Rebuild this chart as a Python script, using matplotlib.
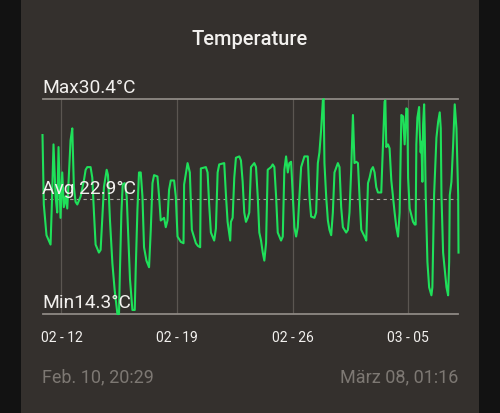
"""Temperature card: green line between Max / Min lines, with dashed average."""
from datetime import datetime, timedelta

import matplotlib
matplotlib.use("Agg")
import matplotlib.pyplot as plt
import matplotlib.dates as mdates
from matplotlib.patches import Rectangle

plt.rcParams["font.family"] = ["Roboto", "DejaVu Sans"]

START = datetime(2025, 2, 10, 20, 29)
END = datetime(2025, 3, 8, 1, 16)

# hours since START
hours = [
    0.0, 1.9, 5.8, 11.7, 13.8, 16.0, 19.0, 21.4, 23.3, 26.2, 28.7, 31.0, 33.5,
    36.0, 38.3, 40.8, 43.3, 45.6, 48.1, 50.6, 55.4, 60.2, 62.7, 65.1, 69.9,
    72.4, 74.8, 77.2, 82.0, 84.5, 87.0, 89.3, 93.3, 95.2, 98.1, 101.6, 104.9,
    108.9, 111.2, 112.6, 114.7, 116.6, 119.5, 122.4, 124.3, 127.2, 130.7,
    134.1, 135.5, 138.0, 140.3, 142.8, 145.3, 147.6, 151.1, 154.9, 157.4,
    159.9, 162.2, 167.1, 169.5, 171.9, 176.8, 179.2, 181.7, 184.0, 186.5,
    191.3, 193.8, 196.3, 201.1, 205.0, 205.9, 210.9, 214.2, 217.1, 223.0,
    225.9, 229.2, 230.2, 237.5, 240.0, 242.3, 244.8, 249.6, 252.1, 254.6,
    256.9, 264.2, 266.7, 269.1, 272.9, 273.9, 276.4, 278.8, 281.2, 286.1,
    288.5, 291.0, 293.3, 295.8, 298.3, 300.6, 303.1, 307.9, 310.4, 312.9,
    315.2, 317.7, 320.2, 322.5, 325.0, 327.4, 332.3, 334.7, 337.1, 339.6,
    342.0, 346.8, 349.3, 351.6, 354.1, 356.6, 358.9, 361.4, 363.9, 366.2,
    368.7, 371.1, 373.5, 376.0, 380.8, 385.7, 388.1, 390.5, 395.3, 397.8,
    400.3, 402.6, 405.1, 407.6, 408.7, 409.9, 412.4, 414.9, 417.2, 419.7,
    422.1, 424.5, 429.4, 431.8, 434.2, 436.7, 439.1, 441.5, 444.0, 446.3,
    448.8, 451.3, 453.6, 456.1, 458.6, 460.9, 463.4, 468.2, 470.7, 473.2,
    475.5, 478.0, 480.4, 482.8, 485.2, 487.7, 492.5, 494.0, 497.3, 498.4,
    499.8, 502.3, 504.6, 507.1, 511.9, 514.4, 516.9, 519.2, 521.7, 524.2,
    526.5, 529.0, 530.4, 531.5, 533.8, 536.2, 538.7, 541.1, 542.5, 543.5,
    545.0, 547.5, 548.3, 549.8, 550.8, 552.3, 553.3, 554.8, 555.6, 557.1,
    559.6, 562.1, 565.4, 566.8, 569.3, 572.7, 575.2, 577.5, 579.0, 580.0,
    582.4, 587.3, 589.7, 591.2, 592.1, 594.5, 597.0, 599.3, 601.8, 604.3,
    604.8,
]
temps = [
    27.7, 22.5, 20.2, 19.5, 22.8, 27.0, 23.1, 21.9, 26.8, 21.5, 24.9, 22.3, 23.1,
    22.2, 24.6, 27.3, 28.2, 23.8, 22.7, 22.5, 23.1, 24.3, 25.1, 25.3, 25.3,
    24.5, 21.9, 19.5, 18.9, 19.1, 21.6, 23.8, 25.1, 24.7, 21.3, 18.1, 16.1,
    14.3, 14.3, 17.6, 21.9, 24.0, 24.1, 23.1, 20.6, 16.9, 14.6,
    14.6, 17.6, 22.1, 24.9, 24.9, 23.1, 19.3, 18.3, 17.8, 20.6,
    24.1, 24.7, 24.6, 23.1, 21.3, 21.5, 20.8, 21.3, 23.6, 24.3,
    24.3, 23.1, 20.1, 19.7, 19.6, 24.0, 25.6, 24.9, 20.6, 19.6,
    19.4, 19.3, 25.2, 25.3, 24.9, 22.5, 20.4, 19.8, 20.7, 24.9,
    25.5, 25.6, 23.2, 21.2, 19.8, 21.2, 21.5, 24.5, 26.0, 26.1,
    25.8, 24.2, 21.9, 21.2, 21.5, 21.9, 25.3, 25.6, 25.3, 23.1,
    20.4, 19.8, 18.9, 18.3, 19.6, 25.1, 25.3, 25.5, 25.3, 23.1,
    20.4, 19.8, 20.1, 25.1, 26.1, 24.9, 25.6, 25.7, 23.1, 20.8,
    20.1, 20.8, 23.1, 25.3, 26.1, 26.1, 23.1, 21.6, 21.5, 21.9,
    25.6, 26.4, 28.1, 30.3, 30.4, 25.6, 23.1, 21.3, 20.6, 20.2,
    21.9, 24.9, 25.6, 25.3, 22.3, 20.8, 20.6, 20.4, 20.6, 21.9,
    25.1, 29.2, 25.6, 25.7, 25.6, 23.1, 20.6, 20.1, 19.8, 24.1,
    24.5, 25.1, 25.3, 24.9, 23.8, 23.4, 23.4, 25.6, 30.2, 30.3,
    26.8, 27.0, 26.7, 24.3, 21.9, 20.8, 20.1, 21.9, 29.2, 29.1,
    27.0, 29.7, 29.6, 24.5, 22.2, 21.7, 21.2, 21.0, 21.0, 27.0,
    29.0, 29.8, 28.2, 26.4, 27.2, 24.2, 28.5, 30.0, 28.2, 23.2,
    18.2, 16.3, 15.7, 16.3, 23.2, 27.5, 28.7, 29.4, 28.2, 23.2,
    18.9, 16.3, 15.7, 18.2, 23.2, 24.2, 27.0, 30.0, 28.2, 23.2,
    18.9,
]
avg_temp = 22.9

tick_days = ["2025-02-12", "2025-02-19", "2025-02-26", "2025-03-05"]

BG = "#121212"
CARD = "#34302d"
LINE = "#1fe05a"
WHITE = "#f2f0ee"
GREY_TXT = "#7d7873"

times = [START + timedelta(hours=h) for h in hours]
t_max = max(temps)
t_min = min(temps)

fig = plt.figure(figsize=(5.0, 4.13), dpi=100)
fig.patch.set_facecolor(BG)
fig.add_artist(Rectangle((0.042, 0), 0.916, 1, transform=fig.transFigure,
                         facecolor=CARD, edgecolor="none", zorder=0))

ax = fig.add_axes([0.085, 0.2397, 0.832, 0.5206])
ax.set_facecolor("none")
ax.set_xlim(START, END)
ax.set_ylim(t_min, t_max)

ax.plot(times, temps, color=LINE, lw=1.5, zorder=3, clip_on=False)

# max / min lines and dashed average
ax.axhline(t_max, color="#8e8984", lw=1.3, zorder=2, clip_on=False)
ax.axhline(t_min, color="#8e8984", lw=1.3, zorder=2, clip_on=False)
ax.axhline(avg_temp, color="#a8a29d", lw=0.8, ls=(0, (3, 3)), zorder=2)

ticks = [datetime.strptime(d, "%Y-%m-%d") for d in tick_days]
ax.set_xticks(ticks)
ax.xaxis.set_major_formatter(mdates.DateFormatter("%m - %d"))
ax.grid(axis="x", color="#5b5651", lw=0.9)
ax.tick_params(axis="x", length=0, pad=12, labelsize=10, labelcolor=WHITE)
ax.set_yticks([])
for s in ax.spines.values():
    s.set_visible(False)

for val, label in [(t_max, f"Max{t_max:.1f}°C"),
                   (avg_temp, f"Avg {avg_temp:.1f}°C"),
                   (t_min, f"Min{t_min:.1f}°C")]:
    ax.annotate(label, (0, val), xycoords=("axes fraction", "data"),
                xytext=(0, 4), textcoords="offset points",
                ha="left", va="baseline", fontsize=13.8, color=WHITE,
                zorder=5)

fig.text(0.5, 0.905, "Temperature", ha="center", va="center",
         fontsize=14.5, fontweight="medium", color=WHITE)
fig.text(0.085, 0.087, START.strftime("Feb. %d, %H:%M"), ha="left",
         va="center", fontsize=13, color=GREY_TXT)
fig.text(0.916, 0.087, END.strftime("März %d, %H:%M"), ha="right",
         va="center", fontsize=13, color=GREY_TXT)

fig.savefig("out.png", dpi=100, facecolor=BG)
